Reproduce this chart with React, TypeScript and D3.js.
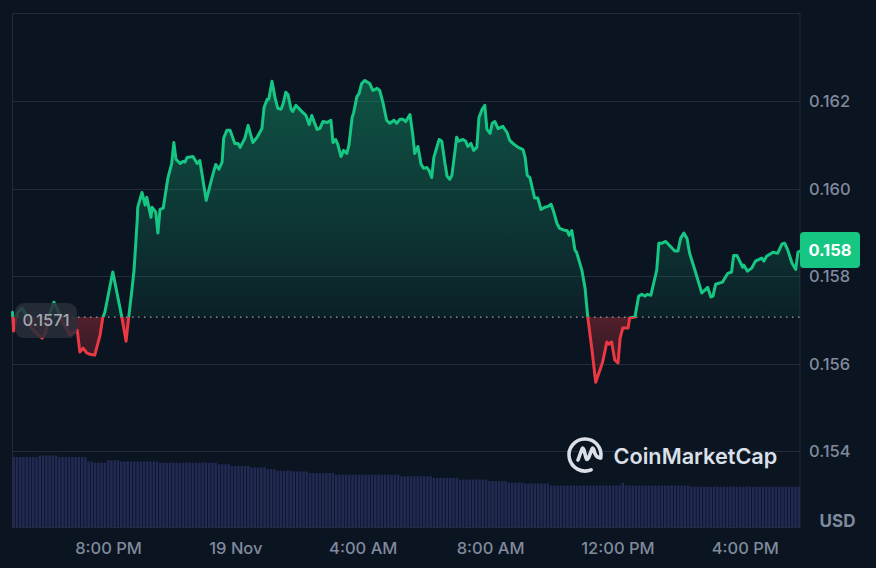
// Dependencies
import React, { useRef, useEffect } from "react";
import * as d3 from "d3";

// minutes since the first sample (5:00 PM)
const minutes = [
  0, 2, 5, 10, 18, 26, 36, 47, 56, 62, 71, 78, 85, 95, 108, 122, 127, 133, 140, 146, 155, 165, 170, 174, 189, 206, 214, 219, 225, 229,
  235, 236, 244, 250, 253, 261, 263, 270, 274, 278, 284, 293, 300, 304, 308, 316, 321, 325, 329, 340, 348, 353, 365, 370, 376, 383, 389, 395, 398, 404,
  410, 419, 425, 429, 438, 444, 453, 461, 470, 474, 480, 483, 489, 495, 500, 506, 510, 515, 519, 525, 528, 534, 547, 553, 559, 564, 574, 579, 585, 593,
  600, 604, 609, 613, 619, 624, 630, 634, 640, 643, 649, 653, 658, 664, 673, 679, 687, 692, 698, 705, 711, 719, 724, 730, 736, 741, 749, 754, 758, 764,
  770, 775, 781, 785, 790, 794, 804, 809, 815, 819, 824, 828, 834, 837, 841, 849, 854, 858, 864, 869, 875, 879, 885, 890, 894, 900, 904, 909, 915, 924,
  932, 937, 943, 953, 962, 966, 970, 975, 984, 990, 996, 1003, 1009, 1015, 1020, 1026, 1031, 1041, 1045, 1049, 1054, 1060, 1063, 1073, 1079, 1084, 1092, 1099, 1107, 1112,
  1120, 1124, 1129, 1135, 1141, 1145, 1150, 1160, 1163, 1173, 1180, 1186, 1192, 1196, 1203, 1214, 1218, 1224, 1231, 1248, 1254, 1259, 1265, 1271, 1276, 1286, 1299, 1310, 1316, 1320,
  1325, 1338, 1348, 1355, 1359, 1365, 1376, 1378, 1385, 1393, 1400, 1412, 1416, 1421, 1433, 1442, 1450, 1455, 1461, 1469, 1476, 1480, 1484,
];

const prices = [
  0.15718, 0.15675, 0.15695, 0.15718, 0.15727, 0.15711, 0.15682, 0.15668, 0.15659, 0.1567, 0.15718, 0.15741, 0.15723, 0.15695, 0.15666, 0.15677, 0.15627, 0.15636, 0.15625, 0.15622, 0.1562, 0.15666, 0.15705, 0.15718, 0.1581, 0.15707, 0.15652, 0.15707, 0.15769, 0.15814,
  0.15928, 0.15958, 0.15992, 0.15963, 0.15981, 0.15935, 0.15958, 0.15947, 0.15899, 0.15953, 0.15956, 0.16026, 0.16058, 0.16106, 0.16068, 0.16058, 0.16063, 0.16061, 0.16072, 0.16074, 0.16058, 0.16065, 0.15974, 0.15997, 0.16026, 0.16056, 0.16045, 0.16061, 0.16116, 0.16134,
  0.16134, 0.16104, 0.16104, 0.16095, 0.16116, 0.16145, 0.16106, 0.16118, 0.16138, 0.16186, 0.16205, 0.16205, 0.16246, 0.16207, 0.16184, 0.16182, 0.16195, 0.16221, 0.16216, 0.16182, 0.16177, 0.16191, 0.16175, 0.16168, 0.16147, 0.16168, 0.16136, 0.16138, 0.16154, 0.16152,
  0.16157, 0.16106, 0.16113, 0.16102, 0.16074, 0.16088, 0.16081, 0.161, 0.16163, 0.16175, 0.16211, 0.16218, 0.16241, 0.16248, 0.16241, 0.16225, 0.1623, 0.16225, 0.16198, 0.16157, 0.1615, 0.16157, 0.1615, 0.16159, 0.16159, 0.16154, 0.1617, 0.16127, 0.16081, 0.16097,
  0.16056, 0.16047, 0.16049, 0.16042, 0.16026, 0.16072, 0.16113, 0.16109, 0.16058, 0.16029, 0.16022, 0.16031, 0.16088, 0.16118, 0.16109, 0.16113, 0.16109, 0.16097, 0.16104, 0.16088, 0.16095, 0.16163, 0.16182, 0.16191, 0.16136, 0.16127, 0.1615, 0.16154, 0.16138, 0.16143,
  0.16129, 0.16111, 0.16104, 0.16095, 0.1609, 0.16072, 0.16031, 0.16026, 0.15979, 0.15979, 0.15953, 0.15958, 0.1596, 0.15965, 0.15947, 0.15921, 0.1591, 0.15905, 0.15905, 0.15894, 0.15905, 0.1586, 0.15855, 0.15814, 0.15773, 0.15707, 0.15632, 0.15558, 0.15586, 0.15604,
  0.1565, 0.15645, 0.1565, 0.15609, 0.15602, 0.15659, 0.15682, 0.15682, 0.15705, 0.15707, 0.15755, 0.15759, 0.15755, 0.15759, 0.15757, 0.15814, 0.15876, 0.15876, 0.1588, 0.15858, 0.15858, 0.15887, 0.15899, 0.15887, 0.15853, 0.15814, 0.15762, 0.15775, 0.15753, 0.15755,
  0.15782, 0.15787, 0.15807, 0.1581, 0.15848, 0.15848, 0.15821, 0.15826, 0.15812, 0.15819, 0.15835, 0.15842, 0.15835, 0.15846, 0.15855, 0.15853, 0.15874, 0.15876, 0.1586, 0.1583, 0.15816, 0.15855, 0.15858,
];

// volume bars come as runs: how many bars in a row share one level
const volumeRuns = [8, 6, 9, 2, 4, 4, 12, 18, 4, 6, 5, 3, 5, 5, 8, 20, 10, 8, 9, 6, 5, 8, 22, 1, 20, 34];
const volumeLevels = [88, 90, 88, 82.5, 81, 84, 82.5, 81, 79, 77, 75, 73, 71, 70, 68, 66, 64, 62, 60, 58, 56, 55, 52.5, 56, 52.5, 51];

const priceTicks = [0.154, 0.156, 0.158, 0.16, 0.162];
const timeTicks = [180, 420, 660, 900, 1140, 1380];
const timeLabels = ["8:00 PM", "19 Nov", "4:00 AM", "8:00 AM", "12:00 PM", "4:00 PM"];
const openPrice = 0.15707;
const lastPrice = "0.158";

const BG = "#0b1421";
const GRID = "#222b38";
const GREEN = "#16c784";
const RED = "#ea3943";
const LABEL = "#808a9d";
const FONT = "Inter, 'Noto Sans', sans-serif";

const App: React.FC = () => {
  const svgRef = useRef<SVGSVGElement | null>(null);

  useEffect(() => {
    if (!svgRef.current) return;
    const width = 876;
    const height = 568;
    const plot = { left: 12.5, right: 800, top: 13.5, bottom: 527.5 };

    const xScale = d3.scaleLinear().domain([0, 1484]).range([plot.left, plot.right]);
    const yScale = d3.scaleLinear().domain([0.15226, 0.16401]).range([plot.bottom, plot.top]);

    const volumes: number[] = [];
    volumeRuns.forEach((n, i) => d3.range(n).forEach(() => volumes.push(volumeLevels[i])));
    const barScale = d3.scaleBand<number>().domain(d3.range(volumes.length)).range([plot.left, plot.right]).paddingInner(0.25);
    const volScale = d3.scaleLinear().domain([0, 100]).range([plot.bottom, plot.bottom - 80]);

    const svg = d3.select(svgRef.current);
    svg.selectAll("*").remove();
    svg.attr("width", width).attr("height", height).style("position", "absolute").style("left", 0).style("top", 0).style("background", BG);

    const points = minutes.map((m, i) => [m, prices[i]] as [number, number]);
    const baseY = yScale(openPrice);

    // Gradients and the split at the opening price
    const defs = svg.append("defs");
    const greenGrad = defs.append("linearGradient").attr("id", "greenFill").attr("gradientUnits", "userSpaceOnUse").attr("x1", 0).attr("x2", 0).attr("y1", yScale(0.1625)).attr("y2", baseY);
    greenGrad.append("stop").attr("offset", 0).attr("stop-color", GREEN).attr("stop-opacity", 0.36);
    greenGrad.append("stop").attr("offset", 1).attr("stop-color", GREEN).attr("stop-opacity", 0.07);
    const redGrad = defs.append("linearGradient").attr("id", "redFill").attr("gradientUnits", "userSpaceOnUse").attr("x1", 0).attr("x2", 0).attr("y1", baseY).attr("y2", yScale(0.1556));
    redGrad.append("stop").attr("offset", 0).attr("stop-color", RED).attr("stop-opacity", 0.32);
    redGrad.append("stop").attr("offset", 1).attr("stop-color", RED).attr("stop-opacity", 0.1);
    defs.append("clipPath").attr("id", "above").append("rect").attr("x", 0).attr("y", 0).attr("width", plot.right).attr("height", baseY);
    defs.append("clipPath").attr("id", "below").append("rect").attr("x", 0).attr("y", baseY).attr("width", plot.right).attr("height", height - baseY);

    // Grid lines and price labels
    const yAxis = svg
      .append("g")
      .attr("transform", `translate(${plot.right},0)`)
      .call(d3.axisRight(yScale).tickValues(priceTicks).tickSize(0).tickPadding(9).tickFormat((d) => (d as number).toFixed(3)));
    yAxis.select(".domain").remove();
    yAxis.selectAll("text").attr("fill", LABEL).attr("font-family", FONT).attr("font-size", 16.5).attr("font-weight", 500);
    svg
      .append("g")
      .selectAll("line")
      .data(priceTicks)
      .enter()
      .append("line")
      .attr("x1", plot.left)
      .attr("x2", plot.right)
      .attr("y1", (d) => Math.round(yScale(d)) + 0.5)
      .attr("y2", (d) => Math.round(yScale(d)) + 0.5)
      .attr("stroke", GRID);

    // Frame
    svg
      .append("rect")
      .attr("x", plot.left)
      .attr("y", plot.top)
      .attr("width", plot.right - plot.left)
      .attr("height", plot.bottom - plot.top)
      .attr("fill", "none")
      .attr("stroke", GRID);

    // Volume bars
    svg
      .append("g")
      .selectAll("rect")
      .data(volumes)
      .enter()
      .append("rect")
      .attr("x", (_, i) => barScale(i)!)
      .attr("y", (d) => volScale(d))
      .attr("width", barScale.bandwidth())
      .attr("height", (d) => plot.bottom - volScale(d))
      .attr("fill", "#232b55");

    // Time labels
    const xAxis = svg
      .append("g")
      .attr("transform", `translate(0,${plot.bottom})`)
      .call(d3.axisBottom(xScale).tickValues(timeTicks).tickSize(0).tickPadding(15).tickFormat((_, i) => timeLabels[i]));
    xAxis.select(".domain").remove();
    xAxis.selectAll("text").attr("fill", LABEL).attr("font-family", FONT).attr("font-size", 16.5).attr("font-weight", 500);

    // Price area and line, split at the opening price
    const area = d3.area<[number, number]>().x((d) => xScale(d[0])).y0(baseY).y1((d) => yScale(d[1]));
    const line = d3.line<[number, number]>().x((d) => xScale(d[0])).y((d) => yScale(d[1]));

    svg.append("path").attr("d", area(points)).attr("fill", "url(#greenFill)").attr("clip-path", "url(#above)");
    svg.append("path").attr("d", area(points)).attr("fill", "url(#redFill)").attr("clip-path", "url(#below)");

    svg
      .append("line")
      .attr("x1", plot.left)
      .attr("x2", plot.right)
      .attr("y1", baseY)
      .attr("y2", baseY)
      .attr("stroke", "#a6acb8")
      .attr("stroke-width", 1.4)
      .attr("stroke-linecap", "round")
      .attr("stroke-dasharray", "0.5 5.5");

    [
      { clip: "url(#above)", color: GREEN },
      { clip: "url(#below)", color: RED },
    ].forEach(({ clip, color }) => {
      svg
        .append("path")
        .attr("d", line(points))
        .attr("fill", "none")
        .attr("stroke", color)
        .attr("stroke-width", 3)
        .attr("stroke-linejoin", "round")
        .attr("stroke-linecap", "round")
        .attr("clip-path", clip);
    });

    // Opening price badge
    svg.append("rect").attr("x", 15).attr("y", baseY - 14).attr("width", 62).attr("height", 35).attr("rx", 9).attr("fill", "#2a2f3a").attr("fill-opacity", 0.85);
    svg
      .append("text")
      .attr("x", 46)
      .attr("y", baseY + 3.5)
      .attr("dy", "0.35em")
      .attr("text-anchor", "middle")
      .attr("fill", "#a3a8b3")
      .attr("font-family", FONT)
      .attr("font-size", 16.5)
      .attr("font-weight", 500)
      .text(openPrice.toFixed(4));

    // Last price tag
    svg.append("rect").attr("x", plot.right).attr("y", 232).attr("width", 60).attr("height", 36).attr("rx", 4).attr("fill", GREEN);
    svg
      .append("text")
      .attr("x", plot.right + 30)
      .attr("y", 250)
      .attr("dy", "0.36em")
      .attr("text-anchor", "middle")
      .attr("fill", "#ffffff")
      .attr("font-family", FONT)
      .attr("font-size", 16.5)
      .attr("font-weight", 700)
      .text(lastPrice);

    svg
      .append("text")
      .attr("x", 837.5)
      .attr("y", 521)
      .attr("dy", "0.35em")
      .attr("text-anchor", "middle")
      .attr("fill", LABEL)
      .attr("font-family", FONT)
      .attr("font-size", 17)
      .attr("font-weight", 700)
      .text("USD");

    // Watermark
    const logo = svg.append("g").attr("transform", "translate(585,455)").attr("fill", "none").attr("stroke", "#dbe0e8").attr("stroke-width", 3.6).attr("stroke-linecap", "round").attr("stroke-linejoin", "round");
    logo.append("path").attr("d", d3.arc()({ innerRadius: 16, outerRadius: 16, startAngle: 2.75, endAngle: 2 * Math.PI + 1.75 } as any));
    logo.append("path").attr("d", "M-7,5 L-3,-6 Q-2,-8 -1,-5 L1,3 Q2,6 3.5,3 L7,-6 Q8,-8 9,-5 Q10,2 15,3");
    svg
      .append("text")
      .attr("x", 613.5)
      .attr("y", 464)
      .attr("fill", "#dbe0e8")
      .attr("font-family", FONT)
      .attr("font-size", 21.7)
      .attr("font-weight", 600)
      .text("CoinMarketCap");
  }, []);

  return <svg ref={svgRef} />;
};

export default App;
